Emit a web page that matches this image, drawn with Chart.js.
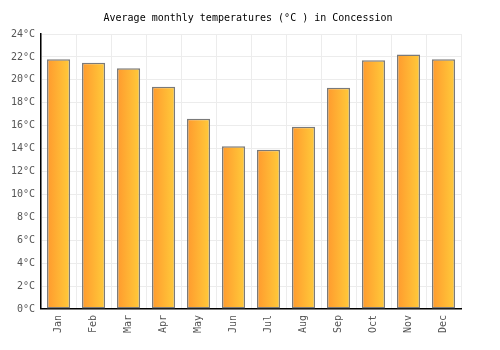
<!DOCTYPE html>
<html>
<head>
<meta charset="utf-8">
<script src="https://cdn.jsdelivr.net/npm/chart.js@4/dist/chart.umd.min.js"></script>
<style>
  html, body { margin: 0; padding: 0; background: #fff; }
  #wrap { width: 500px; height: 350px; }
</style>
</head>
<body>
<div id="wrap"><canvas id="barChart" width="500" height="350"></canvas></div>
<script>
// Data
const months = ['Jan', 'Feb', 'Mar', 'Apr', 'May', 'Jun', 'Jul', 'Aug', 'Sep', 'Oct', 'Nov', 'Dec'];
const temps = [21.8, 21.5, 21.0, 19.4, 16.6, 14.2, 13.9, 15.9, 19.3, 21.7, 22.2, 21.8];
const yTicks = [0, 2, 4, 6, 8, 10, 12, 14, 16, 18, 20, 22, 24];

const BAR_PCT = 0.66;
const FONT = "'DejaVu Sans Mono', monospace";

// horizontal orange gradient per bar
function barFill(ctx) {
    const chart = ctx.chart;
    const xs = chart.scales.x;
    if (!xs || ctx.dataIndex == null) return '#ffb030';
    const cx = xs.getPixelForValue(ctx.dataIndex);
    const half = (xs.width / months.length) * BAR_PCT / 2;
    if (!isFinite(cx) || !isFinite(half) || half <= 0) return '#ffb030';
    const g = chart.ctx.createLinearGradient(cx - half, 0, cx + half, 0);
    g.addColorStop(0, '#ff9a2e');
    g.addColorStop(1, '#ffcb3a');
    return g;
}

let barChart;
function initChart() {
    const c = document.getElementById('barChart');
    if (barChart) barChart.destroy();
    barChart = new Chart(c, {
        type: 'bar',
        data: {
            labels: months,
            datasets: [{
                data: temps,
                backgroundColor: barFill,
                borderColor: '#7a7a7a',
                borderWidth: 1.5,
                borderSkipped: false,
                barPercentage: BAR_PCT,
                categoryPercentage: 1
            }]
        },
        options: {
            responsive: false,
            animation: false,
            layout: { padding: { left: 5, right: 9, top: 0, bottom: 11 } },
            plugins: {
                legend: { display: false },
                tooltip: { enabled: false },
                title: {
                    display: true,
                    text: 'Average monthly temperatures (°C ) in Concession',
                    color: '#000',
                    font: { family: FONT, size: 10, weight: 'normal' },
                    padding: { top: 12, bottom: 10 }
                }
            },
            scales: {
                x: {
                    grid: { color: '#ececec', offset: true, drawTicks: false },
                    border: { color: '#000', width: 1.5 },
                    ticks: {
                        color: '#555',
                        font: { family: FONT, size: 10 },
                        maxRotation: 90,
                        minRotation: 90,
                        padding: 6
                    }
                },
                y: {
                    min: 0,
                    max: 24,
                    afterBuildTicks: (axis) => { axis.ticks = yTicks.map(v => ({ value: v })); },
                    grid: { color: '#ececec', drawTicks: false },
                    border: { color: '#000', width: 1.5 },
                    ticks: {
                        color: '#555',
                        font: { family: FONT, size: 10 },
                        padding: 6,
                        callback: (v) => v + '°C'
                    }
                },
                // empty spacer on the right so the title stays centred on the canvas
                yR: {
                    position: 'right',
                    grid: { display: false },
                    border: { display: false },
                    ticks: { display: false },
                    afterFit: (s) => { s.width = 30; }
                }
            }
        }
    });
}

initChart();
</script>
</body>
</html>
